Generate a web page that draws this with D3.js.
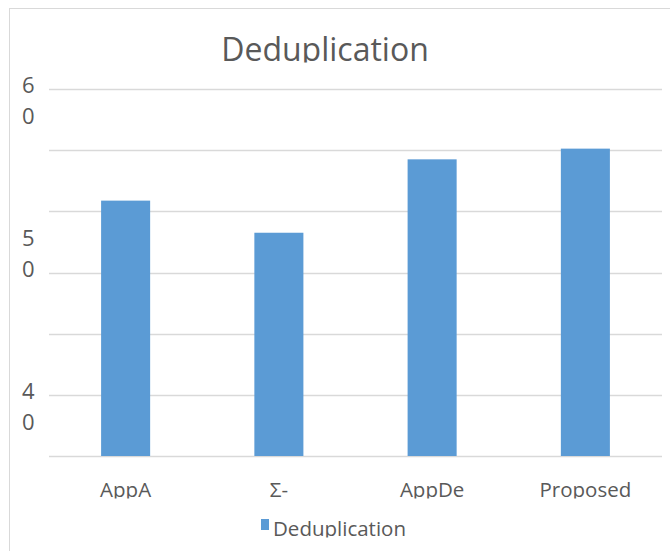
<!DOCTYPE html>
<html>
<head>
<meta charset="utf-8">
<script src="https://cdnjs.cloudflare.com/ajax/libs/d3/7.8.5/d3.min.js"></script>
<style>
  body { margin: 0; background: #fff; }
  svg { display: block; }
  text { font-family: "Open Sans", sans-serif; fill: #595959; }
</style>
</head>
<body>
<svg width="670" height="551"></svg>
<script>
// chart data
var categories = ["AppA", "Σ-", "AppDe", "Proposed"];
var dedupValues = [52.7, 50.6, 55.4, 56.1];
var gridValues = [36, 40, 44, 48, 52, 56, 60];
var tickLabels = [60, 50, 40];
var seriesName = "Deduplication";
var chartTitle = "Deduplication";

var svg = d3.select("svg"),
    width = +svg.attr("width"),
    height = +svg.attr("height");

var plot = {left: 49, right: 662, top: 89, bottom: 456};
var barColor = "#5b9bd5",
    gridColor = "#d9d9d9";

var x = d3.scaleBand()
    .domain(categories)
    .range([plot.left, plot.right])
    .paddingInner(0.68)
    .paddingOuter(0.34);

var y = d3.scaleLinear()
    .domain([36, 60])
    .range([plot.bottom, plot.top]);

// outer chart frame
svg.append("rect")
    .attr("x", 9.5)
    .attr("y", 8.5)
    .attr("width", 700)
    .attr("height", 600)
    .attr("fill", "#fff")
    .attr("stroke", gridColor);

// text in the source is cut just under the baseline
function clipBelow(id, yCut) {
  svg.append("clipPath")
      .attr("id", id)
    .append("rect")
      .attr("x", 0)
      .attr("y", 0)
      .attr("width", width)
      .attr("height", yCut);
  return "url(#" + id + ")";
}

svg.append("text")
    .attr("x", 325)
    .attr("y", 61)
    .attr("text-anchor", "middle")
    .attr("clip-path", clipBelow("clip-title", 62.5))
    .style("font-size", "32px")
    .text(chartTitle);

// gridlines
svg.append("g")
    .selectAll("line")
    .data(gridValues)
    .enter().append("line")
      .attr("x1", plot.left)
      .attr("x2", plot.right)
      .attr("y1", function(d) { return Math.round(y(d)) + 0.5; })
      .attr("y2", function(d) { return Math.round(y(d)) + 0.5; })
      .attr("stroke", gridColor)
      .attr("stroke-width", 1.3);

// y labels, wrapped one digit per line
var yLab = svg.append("g")
    .selectAll("text")
    .data(tickLabels)
    .enter().append("text")
      .attr("x", 22)
      .style("font-size", "22px");

yLab.selectAll("tspan")
    .data(function(d) { return String(d).split("").map(function(c) { return {c: c, v: d}; }); })
    .enter().append("tspan")
      .attr("x", 22)
      .attr("y", function(d, i) { return y(d.v) + 4 + i * 31; })
      .text(function(d) { return d.c; });

// bars
svg.append("g")
    .selectAll("rect")
    .data(dedupValues)
    .enter().append("rect")
      .attr("x", function(d, i) { return x(categories[i]); })
      .attr("y", function(d) { return y(d); })
      .attr("width", x.bandwidth())
      .attr("height", function(d) { return y(36) - y(d); })
      .attr("fill", barColor);

// category labels
svg.append("g")
    .attr("clip-path", clipBelow("clip-xlab", 498.5))
    .selectAll("text")
    .data(categories)
    .enter().append("text")
      .attr("x", function(d) { return x(d) + x.bandwidth() / 2; })
      .attr("y", 497)
      .attr("text-anchor", "middle")
      .style("font-size", "20.5px")
      .text(function(d) { return d; });

// legend
var legend = svg.append("g")
    .attr("clip-path", clipBelow("clip-legend", 537.5));

legend.append("rect")
    .attr("x", 261)
    .attr("y", 519)
    .attr("width", 8)
    .attr("height", 11)
    .attr("fill", barColor);

legend.append("text")
    .attr("x", 273)
    .attr("y", 536)
    .style("font-size", "20.5px")
    .text(seriesName);
</script>
</body>
</html>
